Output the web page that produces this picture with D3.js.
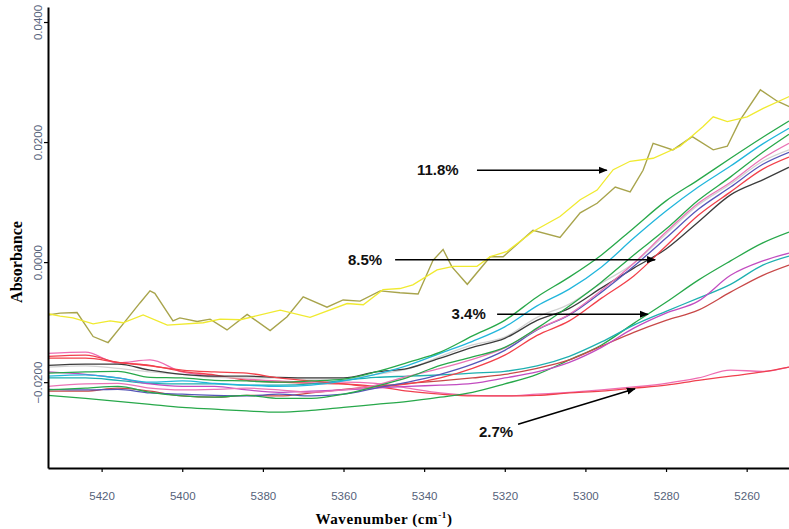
<!DOCTYPE html>
<html>
<head>
<meta charset="utf-8">
<script src="https://cdn.jsdelivr.net/npm/d3@7"></script>
<style>
  body { margin: 0; background: #fff; }
  svg { display: block; }
</style>
</head>
<body>
<div id="chart"></div>
<script>
// wavenumber grid shared by the smooth spectra (cm-1)
const wavenumbers = [5433.3, 5424, 5416, 5408, 5400, 5392, 5384, 5376, 5368, 5360, 5352, 5344,
                     5336, 5328, 5320, 5312, 5304, 5296, 5288, 5280, 5272, 5264, 5256, 5249.5];

// 8.5% spectra
const green1 = [-0.0185, -0.0183, -0.0182, -0.0192, -0.0193, -0.0197, -0.0198, -0.0200, -0.0198, -0.0195, -0.0183, -0.0167,
                -0.0150, -0.0123, -0.0097, -0.0058, -0.0025, 0.0012, 0.0057, 0.0102, 0.0137, 0.0173, 0.0208, 0.0235];
const cyan1 = [-0.0190, -0.0188, -0.0193, -0.0200, -0.0198, -0.0202, -0.0205, -0.0207, -0.0205, -0.0198, -0.0187, -0.0172,
               -0.0152, -0.0132, -0.0108, -0.0073, -0.0045, -0.0008, 0.0040, 0.0085, 0.0125, 0.0160, 0.0197, 0.0223];
const green2 = [-0.0213, -0.0210, -0.0207, -0.0217, -0.0223, -0.0225, -0.0222, -0.0227, -0.0227, -0.0220, -0.0207, -0.0192,
                -0.0172, -0.0158, -0.0142, -0.0110, -0.0073, -0.0033, 0.0012, 0.0055, 0.0103, 0.0142, 0.0183, 0.0213];
const pink1 = [-0.0207, -0.0203, -0.0202, -0.0210, -0.0213, -0.0212, -0.0210, -0.0213, -0.0217, -0.0213, -0.0205, -0.0190,
               -0.0177, -0.0162, -0.0143, -0.0112, -0.0087, -0.0047, -0.0002, 0.0050, 0.0098, 0.0133, 0.0173, 0.0198];
const gray1 = [-0.0175, -0.0173, -0.0177, -0.0183, -0.0187, -0.0192, -0.0193, -0.0193, -0.0195, -0.0195, -0.0187, -0.0178,
               -0.0157, -0.0138, -0.0125, -0.0092, -0.0070, -0.0035, -0.0002, 0.0047, 0.0095, 0.0130, 0.0168, 0.0187];
const black1 = [-0.0172, -0.0170, -0.0170, -0.0180, -0.0187, -0.0190, -0.0190, -0.0192, -0.0193, -0.0193, -0.0183, -0.0177,
                -0.0160, -0.0142, -0.0127, -0.0097, -0.0077, -0.0043, -0.0010, 0.0022, 0.0067, 0.0112, 0.0137, 0.0158];
const blue1 = [-0.0212, -0.0213, -0.0212, -0.0218, -0.0220, -0.0222, -0.0223, -0.0220, -0.0223, -0.0220, -0.0210, -0.0200,
               -0.0187, -0.0170, -0.0147, -0.0113, -0.0088, -0.0050, -0.0007, 0.0040, 0.0088, 0.0125, 0.0163, 0.0183];
const red1 = [-0.0160, -0.0160, -0.0167, -0.0173, -0.0180, -0.0183, -0.0185, -0.0193, -0.0198, -0.0203, -0.0208, -0.0203,
              -0.0193, -0.0177, -0.0155, -0.0122, -0.0098, -0.0060, -0.0023, 0.0027, 0.0078, 0.0117, 0.0155, 0.0175];

// 3.4% spectra
const magenta3 = [-0.0183, -0.0187, -0.0193, -0.0203, -0.0207, -0.0207, -0.0213, -0.0217, -0.0215, -0.0213, -0.0210, -0.0207,
                  -0.0205, -0.0202, -0.0193, -0.0183, -0.0167, -0.0142, -0.0110, -0.0085, -0.0065, -0.0022, 0.0002, 0.0015];
const teal3 = [-0.0193, -0.0193, -0.0197, -0.0202, -0.0203, -0.0203, -0.0205, -0.0205, -0.0203, -0.0197, -0.0192, -0.0190,
               -0.0188, -0.0185, -0.0182, -0.0173, -0.0157, -0.0133, -0.0105, -0.0082, -0.0060, -0.0037, -0.0005, 0.0010];
const darkred3 = [-0.0215, -0.0215, -0.0210, -0.0215, -0.0223, -0.0225, -0.0222, -0.0223, -0.0218, -0.0212, -0.0207, -0.0202,
                  -0.0198, -0.0193, -0.0187, -0.0177, -0.0163, -0.0140, -0.0117, -0.0097, -0.0080, -0.0050, -0.0022, -0.0005];
const green3 = [-0.0222, -0.0227, -0.0232, -0.0237, -0.0242, -0.0245, -0.0248, -0.0250, -0.0247, -0.0242, -0.0237, -0.0232,
                -0.0225, -0.0217, -0.0203, -0.0187, -0.0163, -0.0138, -0.0102, -0.0067, -0.0030, 0.0002, 0.0032, 0.0050];

// 2.7% spectra
const pink27 = [-0.0152, -0.0150, -0.0168, -0.0163, -0.0183, -0.0190, -0.0195, -0.0198, -0.0200, -0.0200, -0.0202, -0.0210,
                -0.0218, -0.0222, -0.0223, -0.0220, -0.0217, -0.0213, -0.0208, -0.0202, -0.0193, -0.0180, -0.0182, -0.0175];
const red27 = [-0.0157, -0.0155, -0.0167, -0.0172, -0.0182, -0.0188, -0.0197, -0.0200, -0.0202, -0.0203, -0.0207, -0.0215,
               -0.0220, -0.0223, -0.0223, -0.0222, -0.0218, -0.0215, -0.0210, -0.0205, -0.0197, -0.0190, -0.0183, -0.0175];

// 11.8% spectra, read at their own turning points
const oliveWn = [5433.3, 5430.3, 5426.1, 5422.1, 5418.4, 5414.9, 5410.5, 5408.0, 5406.8, 5402.3, 5400.6, 5396.3,
                 5393.1, 5388.9, 5383.9, 5378.2, 5374.0, 5370.0, 5364.1, 5360.1, 5355.9, 5350.9, 5346.0, 5341.5,
                 5337.8, 5335.3, 5333.1, 5329.3, 5323.6, 5320.4, 5313.0, 5306.3, 5301.3, 5297.1, 5292.6, 5288.9,
                 5285.7, 5283.2, 5278.3, 5273.5, 5268.3, 5264.8, 5261.6, 5256.6, 5252.4, 5249.4];
const oliveAbs = [-0.0088, -0.0085, -0.0084, -0.0124, -0.0134, -0.0105, -0.0068, -0.0048, -0.0052, -0.0098, -0.0093, -0.0099,
                  -0.0095, -0.0113, -0.0087, -0.0114, -0.0091, -0.0058, -0.0075, -0.0063, -0.0065, -0.0048, -0.0051, -0.0053,
                  0.0003, 0.0021, -0.0008, -0.0037, 0.0009, 0.0009, 0.0053, 0.0041, 0.0082, 0.0098, 0.0125, 0.0117,
                  0.0153, 0.0198, 0.0187, 0.0209, 0.0187, 0.0193, 0.0237, 0.0287, 0.0268, 0.0259];
const yellowWn = [5433.3, 5430.3, 5427.1, 5422.1, 5417.9, 5414.7, 5409.7, 5403.7, 5394.8, 5390.6, 5385.6, 5375.7,
                  5368.3, 5359.1, 5355.1, 5350.2, 5346.0, 5342.8, 5336.8, 5332.8, 5326.9, 5323.6, 5319.4, 5313.0,
                  5306.3, 5301.3, 5297.1, 5293.1, 5288.9, 5283.2, 5276.5, 5270.8, 5268.3, 5264.8, 5259.9, 5255.9, 5249.4];
const yellowAbs = [-0.0086, -0.0090, -0.0093, -0.0103, -0.0098, -0.0101, -0.0088, -0.0105, -0.0101, -0.0095, -0.0096, -0.0080,
                   -0.0092, -0.0069, -0.0071, -0.0046, -0.0044, -0.0038, -0.0013, -0.0007, -0.0007, 0.0009, 0.0018, 0.0051,
                   0.0076, 0.0104, 0.0120, 0.0154, 0.0168, 0.0173, 0.0193, 0.0226, 0.0242, 0.0234, 0.0242, 0.0256, 0.0276];

const xTicks = [5420, 5400, 5380, 5360, 5340, 5320, 5300, 5280, 5260];
const yTicks = [-0.02, 0, 0.02, 0.04];

// annotation labels: text anchor and arrow start/end, in data units
const noteLabels = ["11.8%", "8.5%", "3.4%", "2.7%"];
const noteText = [[5341.8, 0.0145], [5358.9, -0.0005], [5333.2, -0.0095], [5326.4, -0.0292]];
const noteFrom = [[5326.9, 0.0153], [5347.2, 0.0004], [5321.9, -0.0087], [5316.7, -0.0270]];
const noteTo = [[5294.7, 0.0153], [5282.7, 0.0004], [5284.5, -0.0087], [5287.7, -0.0211]];

const width = 789, height = 529;
const plotLeft = 48, plotTop = 7, plotBottom = 468;

const svg = d3.select("#chart").append("svg")
  .attr("width", width)
  .attr("height", height);

const x = d3.scaleLinear().domain([5433.3, 5249.5]).range([plotLeft, width]);
const y = d3.scaleLinear().domain([-0.0343, 0.0425]).range([plotBottom, plotTop]);

svg.append("clipPath").attr("id", "plot")
  .append("rect").attr("x", plotLeft).attr("y", plotTop)
  .attr("width", width - plotLeft).attr("height", plotBottom - plotTop);

const grid = [
  { v: pink27, c: "#ee6cb2" }, { v: red27, c: "#f0404e" },
  { v: green3, c: "#27a84a" }, { v: darkred3, c: "#c84848" },
  { v: teal3, c: "#1eb0b0" }, { v: magenta3, c: "#c24cc0" },
  { v: gray1, c: "#d2d2d2" }, { v: black1, c: "#3c3c3c" },
  { v: red1, c: "#f2404a" }, { v: blue1, c: "#5656b8" },
  { v: pink1, c: "#ea74b6" }, { v: green2, c: "#27a84a" },
  { v: cyan1, c: "#22b6dc" }, { v: green1, c: "#27a84a" }
];

const smooth = d3.line()
  .x(d => x(d[0]))
  .y(d => y(d[1]))
  .curve(d3.curveMonotoneX);
const straight = d3.line()
  .x(d => x(d[0]))
  .y(d => y(d[1]));

const lines = svg.append("g").attr("clip-path", "url(#plot)");

lines.selectAll(".spec")
  .data(grid)
  .enter()
  .append("path")
  .attr("class", "spec")
  .attr("d", s => smooth(wavenumbers.map((w, i) => [w, s.v[i]])))
  .attr("fill", "none")
  .attr("stroke", s => s.c)
  .attr("stroke-width", 1.3);

lines.append("path")
  .attr("d", straight(oliveWn.map((w, i) => [w, oliveAbs[i]])))
  .attr("fill", "none").attr("stroke", "#a8a44c").attr("stroke-width", 1.4);
lines.append("path")
  .attr("d", straight(yellowWn.map((w, i) => [w, yellowAbs[i]])))
  .attr("fill", "none").attr("stroke", "#f0ea30").attr("stroke-width", 1.3);

// axes
const tickColor = "#55627a";

const xAxis = svg.append("g")
  .attr("transform", `translate(0,${plotBottom})`)
  .call(d3.axisBottom(x).tickValues(xTicks).tickFormat(d3.format("d")).tickSize(4).tickSizeOuter(0));
xAxis.select(".domain").attr("stroke-width", 2);
xAxis.selectAll(".tick line").attr("stroke-width", 1.2);
xAxis.selectAll("text")
  .attr("y", 32).attr("dy", 0)
  .attr("fill", tickColor)
  .style("font-family", "Liberation Sans, Arial, sans-serif")
  .style("font-size", "11.5px");

const yAxis = svg.append("g")
  .attr("transform", `translate(${plotLeft},0)`)
  .call(d3.axisLeft(y).tickValues(yTicks).tickFormat(d3.format(".4f")).tickSize(4).tickSizeOuter(0));
yAxis.select(".domain").attr("stroke-width", 2);
yAxis.selectAll(".tick line").attr("stroke-width", 1.2);
yAxis.selectAll("text")
  .attr("transform", "rotate(-90)")
  .attr("x", 0).attr("y", -6).attr("dy", 0)
  .attr("text-anchor", "middle")
  .attr("fill", tickColor)
  .style("font-family", "Liberation Sans, Arial, sans-serif")
  .style("font-size", "11.5px");

// axis titles
svg.append("text")
  .attr("transform", "translate(22,262) rotate(-90)")
  .attr("text-anchor", "middle")
  .style("font-family", "Liberation Serif, Times New Roman, serif")
  .style("font-weight", "bold")
  .style("font-size", "16px")
  .text("Absorbance");

const xt = svg.append("text")
  .attr("x", 384).attr("y", 524)
  .attr("text-anchor", "middle")
  .style("font-family", "Liberation Serif, Times New Roman, serif")
  .style("font-weight", "bold")
  .style("font-size", "15px")
  .style("letter-spacing", "0.6px");
xt.append("tspan").text("Wavenumber (cm");
xt.append("tspan").attr("dy", -6).style("font-size", "9px").text("-1");
xt.append("tspan").attr("dy", 6).text(")");

// annotations
svg.append("defs").append("marker")
  .attr("id", "head")
  .attr("viewBox", "0 0 10 10")
  .attr("refX", 9).attr("refY", 5)
  .attr("markerWidth", 6).attr("markerHeight", 6)
  .attr("orient", "auto")
  .append("path").attr("d", "M0,1 L10,5 L0,9 Z").attr("fill", "#000");

const notes = svg.append("g");
noteLabels.forEach((lab, i) => {
  notes.append("text")
    .attr("x", x(noteText[i][0])).attr("y", y(noteText[i][1]))
    .style("font-family", "Liberation Sans, Arial, sans-serif")
    .style("font-weight", "bold")
    .style("font-size", "15px")
    .attr("fill", "#111")
    .text(lab);
  notes.append("line")
    .attr("x1", x(noteFrom[i][0])).attr("y1", y(noteFrom[i][1]))
    .attr("x2", x(noteTo[i][0])).attr("y2", y(noteTo[i][1]))
    .attr("stroke", "#000").attr("stroke-width", 1.5)
    .attr("marker-end", "url(#head)");
});
</script>
</body>
</html>
